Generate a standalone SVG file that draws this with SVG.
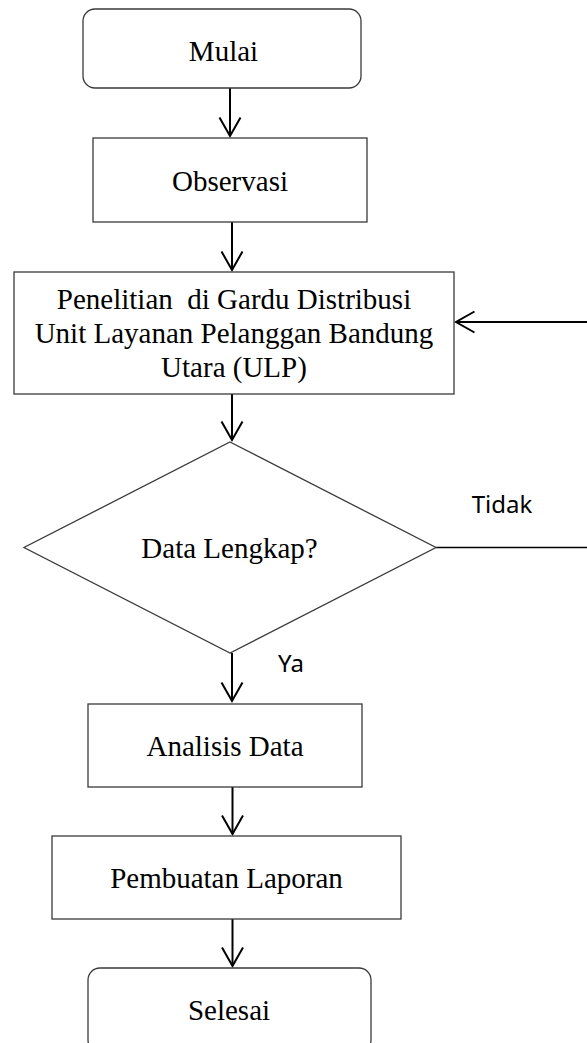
<svg xmlns="http://www.w3.org/2000/svg" width="587" height="1043" viewBox="0 0 587 1043">
  <style>
    .box { fill: #fff; stroke: #3a3a3a; stroke-width: 1.3; }
    .label { font-family: "Liberation Serif", "Times New Roman", serif; font-size: 29px; fill: #000; text-anchor: middle; }
    .branch { font-family: "Noto Sans", "Open Sans", sans-serif; font-size: 24px; fill: #000; text-anchor: middle; }
    .flow { fill: none; stroke: #000; stroke-width: 2; marker-end: url(#open-arrow); }
    .thin { fill: none; stroke: #000; stroke-width: 1.3; }
  </style>
  <defs>
    <marker id="open-arrow" viewBox="-22 -13 24 26" refX="0" refY="0" markerWidth="24" markerHeight="26" markerUnits="userSpaceOnUse" orient="auto" overflow="visible">
      <path d="M-18.5,-10.5 L0,0 L-18.5,10.5" fill="none" stroke="#000" stroke-width="2"/>
    </marker>
  </defs>
  <rect width="587" height="1043" fill="#fff"/>

  <g id="connectors">
    <path class="flow" d="M230,88 V136"/>
    <path class="flow" d="M232,222 V270"/>
    <path class="flow" d="M232,394 V440"/>
    <path class="flow" d="M232,653 V701"/>
    <path class="flow" d="M232.5,787 V834"/>
    <path class="flow" d="M232.5,919 V966"/>
    <!-- "Tidak" loop back to the research step -->
    <path class="thin" d="M436,547.5 H592 V322"/>
    <path class="flow" d="M592,322 H456"/>
  </g>

  <g id="mulai">
    <rect class="box" x="83" y="9" width="278" height="79" rx="12" ry="12"/>
    <text class="label" x="223.5" y="61">Mulai</text>
  </g>

  <g id="observasi">
    <rect class="box" x="93" y="138" width="274" height="84"/>
    <text class="label" x="230" y="190.5">Observasi</text>
  </g>

  <g id="penelitian">
    <rect class="box" x="14" y="272" width="440" height="122"/>
    <text class="label" x="234" y="309" xml:space="preserve">Penelitian  di Gardu Distribusi</text>
    <text class="label" x="234" y="343">Unit Layanan Pelanggan Bandung</text>
    <text class="label" x="234" y="377">Utara (ULP)</text>
  </g>

  <g id="data-lengkap">
    <polygon class="box" points="230,442 436,547.5 230,653 24,547.5"/>
    <text class="label" x="229.5" y="558">Data Lengkap?</text>
  </g>

  <g id="branch-labels">
    <text class="branch" x="502" y="512.5">Tidak</text>
    <text class="branch" x="291" y="672">Ya</text>
  </g>

  <g id="analisis">
    <rect class="box" x="88" y="704" width="274" height="83"/>
    <text class="label" x="225" y="756">Analisis Data</text>
  </g>

  <g id="pembuatan">
    <rect class="box" x="52" y="836" width="349" height="83"/>
    <text class="label" x="226.5" y="888">Pembuatan Laporan</text>
  </g>

  <g id="selesai">
    <rect class="box" x="88" y="968" width="283" height="84" rx="12" ry="12"/>
    <text class="label" x="229" y="1020">Selesai</text>
  </g>
</svg>
